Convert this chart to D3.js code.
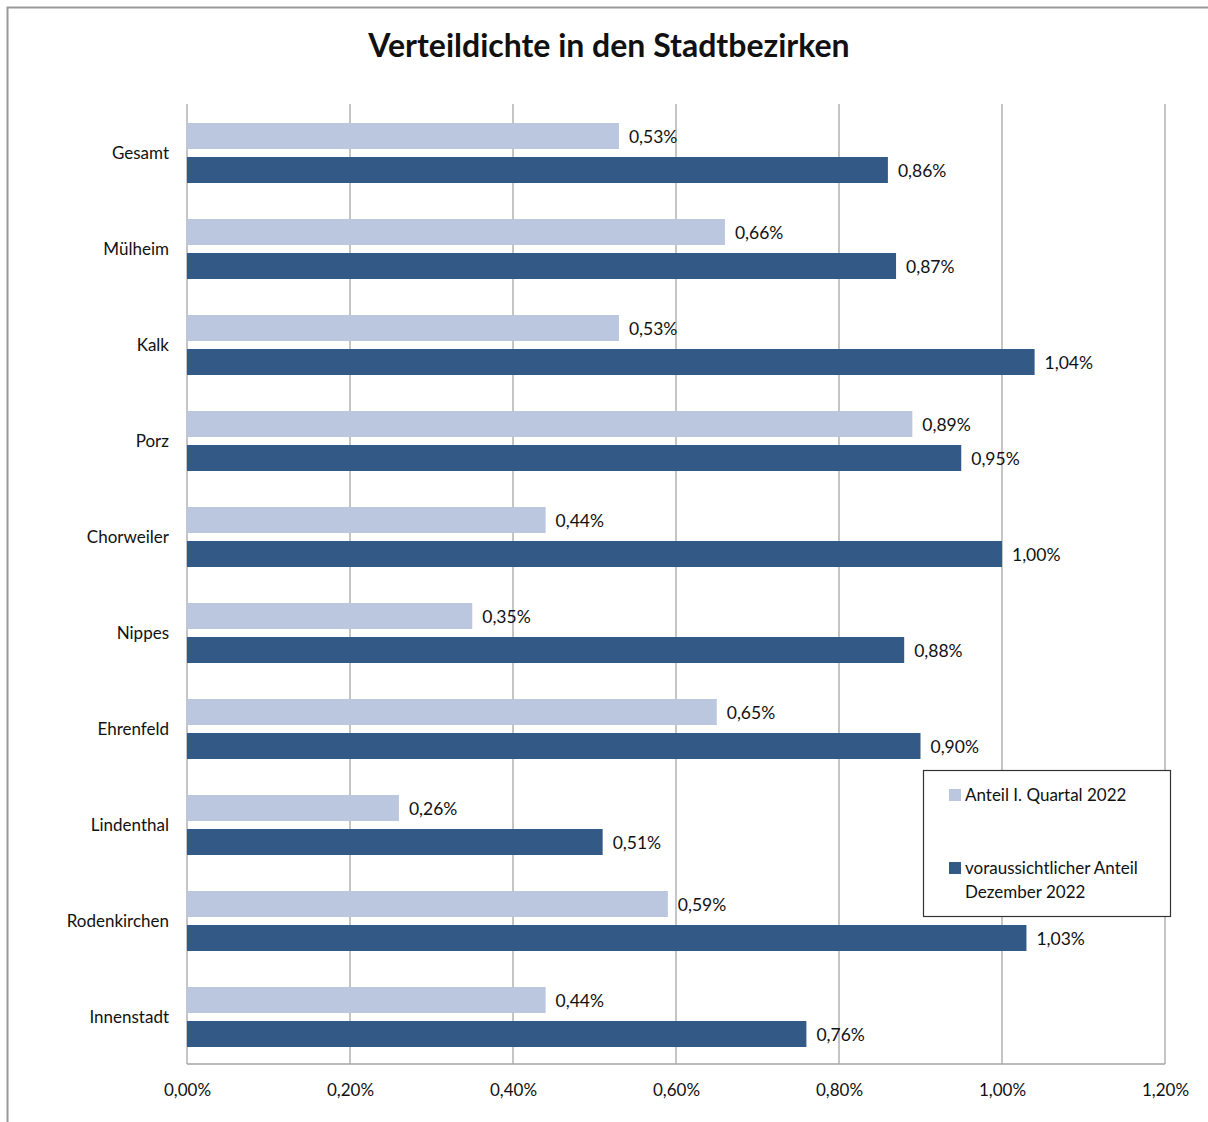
<!DOCTYPE html>
<html>
<head>
<meta charset="utf-8">
<script src="https://cdn.jsdelivr.net/npm/d3@7"></script>
<style>
  body { margin: 0; background: #fff; }
  text { font-family: Lato, "Open Sans", sans-serif; fill: #111; }
</style>
</head>
<body>
<svg id="chart" width="1208" height="1122"></svg>
<script>
// data
var districts = ["Gesamt", "Mülheim", "Kalk", "Porz", "Chorweiler", "Nippes",
    "Ehrenfeld", "Lindenthal", "Rodenkirchen", "Innenstadt"]
var q1_2022 = [0.53, 0.66, 0.53, 0.89, 0.44, 0.35, 0.65, 0.26, 0.59, 0.44]
var dec_2022 = [0.86, 0.87, 1.04, 0.95, 1.00, 0.88, 0.90, 0.51, 1.03, 0.76]
var xTicks = [0, 0.2, 0.4, 0.6, 0.8, 1.0, 1.2]
var seriesNames = ["Anteil I. Quartal 2022", "voraussichtlicher Anteil|Dezember 2022"]
var colors = ["#BAC7DE", "#335A86"]

var svg = d3.select("#chart")
var fmt = v => d3.format(".2f")(v).replace(".", ",") + "%"

// outer frame
svg.append("rect")
    .attr("x", 7.5).attr("y", 7.5)
    .attr("width", 1220).attr("height", 1130)
    .attr("fill", "none").attr("stroke", "#999").attr("stroke-width", 2)

svg.append("text")
    .attr("x", 609).attr("y", 57)
    .attr("text-anchor", "middle")
    .attr("font-size", 32).attr("font-weight", "bold")
    .text("Verteildichte in den Stadtbezirken")

var plotL = 187, plotR = 1165, plotT = 104, plotB = 1064

var x = d3.scaleLinear().domain([0, 1.2]).range([plotL, plotR])
var y = d3.scaleBand().domain(districts).range([plotT, plotB])

// gridlines
svg.append("g").selectAll("line")
    .data(xTicks).enter().append("line")
    .attr("x1", d => x(d)).attr("x2", d => x(d))
    .attr("y1", plotT).attr("y2", plotB)
    .attr("stroke", "#a6a6a6").attr("stroke-width", 1.3)

svg.append("line")
    .attr("x1", plotL).attr("x2", plotR)
    .attr("y1", plotB).attr("y2", plotB)
    .attr("stroke", "#a6a6a6").attr("stroke-width", 1.5)

// x axis labels
var xAxis = d3.axisBottom(x).tickValues(xTicks).tickSize(0).tickPadding(20)
    .tickFormat(fmt)
var gx = svg.append("g").attr("transform", `translate(0,${plotB})`).call(xAxis)
gx.select(".domain").remove()
gx.selectAll("text").attr("font-size", 17).attr("font-family", null)

// y labels
svg.append("g").selectAll("text")
    .data(districts).enter().append("text")
    .attr("x", plotL - 18)
    .attr("y", d => y(d) + y.bandwidth() / 2 + 1)
    .attr("dy", "0.35em")
    .attr("text-anchor", "end")
    .attr("font-size", 17)
    .text(d => d)

var barH = 26
var series = [q1_2022, dec_2022]
series.forEach((vals, si) => {
    var off = si === 0 ? -29 : 5
    var g = svg.append("g")
    g.selectAll("rect")
        .data(districts).enter().append("rect")
        .attr("x", plotL)
        .attr("y", d => y(d) + y.bandwidth() / 2 + off)
        .attr("width", (d, i) => x(vals[i]) - plotL)
        .attr("height", barH)
        .attr("fill", colors[si])
    g.selectAll("text")
        .data(districts).enter().append("text")
        .attr("x", (d, i) => x(vals[i]) + 10)
        .attr("y", d => y(d) + y.bandwidth() / 2 + off + barH / 2 + 1)
        .attr("dy", "0.35em")
        .attr("font-size", 17.5)
        .text((d, i) => fmt(vals[i]))
})

// legend
var lg = svg.append("g").attr("transform", "translate(923,770)")
lg.append("rect")
    .attr("x", 0.5).attr("y", 0.5).attr("width", 247).attr("height", 146)
    .attr("fill", "#fff").attr("stroke", "#333").attr("stroke-width", 1.2)
seriesNames.forEach((name, i) => {
    var yy = i === 0 ? 25 : 98
    lg.append("rect")
        .attr("x", 26).attr("y", yy - 6).attr("width", 12).attr("height", 12)
        .attr("fill", colors[i])
    var t = lg.append("text").attr("x", 42).attr("y", yy).attr("font-size", 17)
    name.split("|").forEach((line, j) => {
        t.append("tspan").attr("x", 42).attr("dy", j === 0 ? "0.35em" : 24).text(line)
    })
})
</script>
</body>
</html>
